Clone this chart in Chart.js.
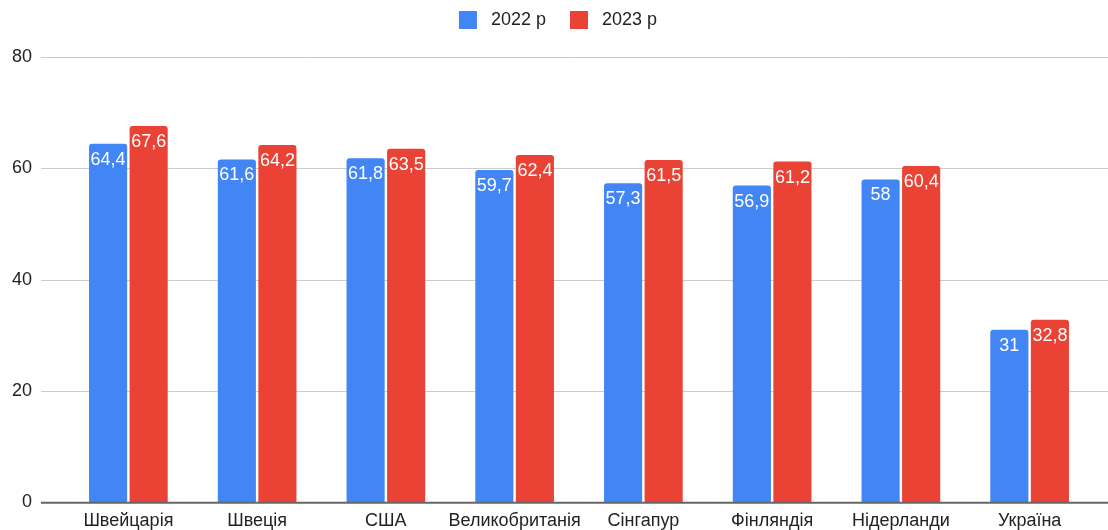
<!DOCTYPE html>
<html>
<head>
<meta charset="utf-8">
<script src="https://cdn.jsdelivr.net/npm/chart.js@4"></script>
<style>
  html, body { margin: 0; padding: 0; background: #fff; overflow: hidden; }
  #wrap { width: 1108px; height: 537px; }
</style>
</head>
<body>
<div id="wrap"><canvas id="chart"></canvas></div>
<script>
const countries = ["Швейцарія", "Швеція", "США", "Великобританія", "Сінгапур", "Фінляндія", "Нідерланди", "Україна"];
const values2022 = [64.4, 61.6, 61.8, 59.7, 57.3, 56.9, 58, 31];
const values2023 = [67.6, 64.2, 63.5, 62.4, 61.5, 61.2, 60.4, 32.8];
const yTicks = [0, 20, 40, 60, 80];

const FONT = "Arial, 'Liberation Sans', sans-serif";

// extra room under the legend, and nudge it a little to the right
const legendGap = {
  id: "legendGap",
  beforeInit(chart) {
    const fit = chart.legend.fit;
    chart.legend.fit = function () {
      fit.bind(chart.legend)();
      this.height += 18;
    };
  },
  afterLayout(chart) {
    chart.legend.left += 11;
    chart.legend.right += 11;
  }
};

// grid lines run past the plot area on both sides, like the original
const gridPlugin = {
  id: "wideGrid",
  beforeDatasetsDraw(chart) {
    const { ctx, chartArea, scales } = chart;
    const left = chartArea.left - 23;
    const right = chart.width;
    ctx.save();
    yTicks.forEach(v => {
      if (v === 0) return;
      const y = Math.round(scales.y.getPixelForValue(v));
      ctx.strokeStyle = "#cccccc";
      ctx.lineWidth = 1;
      ctx.beginPath();
      ctx.moveTo(left, y + 0.5);
      ctx.lineTo(right, y + 0.5);
      ctx.stroke();
    });
    ctx.restore();
  },
  afterDatasetsDraw(chart) {
    const { ctx, chartArea, scales } = chart;
    const y = scales.y.getPixelForValue(0);
    ctx.save();
    ctx.strokeStyle = "#666666";
    ctx.lineWidth = 2;
    ctx.beginPath();
    ctx.moveTo(chartArea.left - 23, y + 0.5);
    ctx.lineTo(chart.width, y + 0.5);
    ctx.stroke();

    // value labels inside the top of each bar
    ctx.fillStyle = "#ffffff";
    ctx.font = "18px " + FONT;
    ctx.textAlign = "center";
    ctx.textBaseline = "alphabetic";
    chart.data.datasets.forEach((ds, i) => {
      chart.getDatasetMeta(i).data.forEach((bar, j) => {
        const txt = String(ds.data[j]).replace(".", ",");
        ctx.fillText(txt, bar.x, bar.y + 21);
      });
    });
    ctx.restore();
  }
};

new Chart(document.getElementById("chart"), {
  type: "bar",
  data: {
    labels: countries,
    datasets: [
      { label: "2022 р", data: values2022, backgroundColor: "#4285f4", borderRadius: { topLeft: 3, topRight: 3 } },
      { label: "2023 р", data: values2023, backgroundColor: "#ea4335", borderRadius: { topLeft: 3, topRight: 3 } }
    ]
  },
  options: {
    responsive: true,
    maintainAspectRatio: false,
    animation: false,
    layout: { padding: { top: -13, right: 14, bottom: 0, left: 0 } },
    datasets: {
      bar: { categoryPercentage: 0.63, barPercentage: 0.94 }
    },
    plugins: {
      legend: {
        position: "top",
        labels: {
          boxWidth: 18,
          boxHeight: 18,
          padding: 24,
          color: "#222222",
          font: { size: 18, family: FONT },
          // a bit more space between the swatch and the text
          generateLabels(chart) {
            return Chart.defaults.plugins.legend.labels.generateLabels(chart)
              .map(l => Object.assign(l, { text: " " + l.text }));
          }
        }
      },
      tooltip: { enabled: false }
    },
    scales: {
      x: {
        grid: { display: false },
        border: { display: false },
        ticks: {
          color: "#222222",
          font: { size: 18, family: FONT },
          padding: 0,
          maxRotation: 0,
          autoSkip: false
        }
      },
      y: {
        min: 0,
        max: 80,
        afterFit(scale) { scale.width = 64; },
        afterBuildTicks(scale) { scale.ticks = yTicks.map(v => ({ value: v })); },
        grid: { display: false },
        border: { display: false },
        ticks: {
          color: "#222222",
          font: { size: 18, family: FONT },
          padding: 24
        }
      }
    }
  },
  plugins: [legendGap, gridPlugin]
});
</script>
</body>
</html>
